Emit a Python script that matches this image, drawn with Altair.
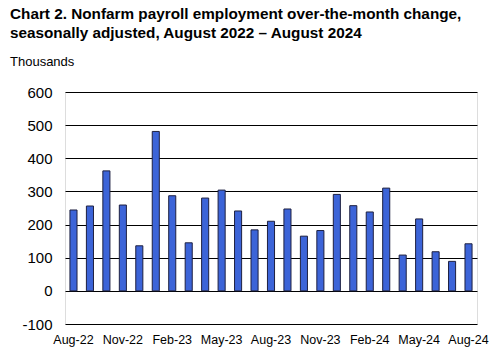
import altair as alt
import pandas as pd

months = ["Aug-22","Sep-22","Oct-22","Nov-22","Dec-22","Jan-23","Feb-23","Mar-23","Apr-23",
          "May-23","Jun-23","Jul-23","Aug-23","Sep-23","Oct-23","Nov-23","Dec-23","Jan-24",
          "Feb-24","Mar-24","Apr-24","May-24","Jun-24","Jul-24","Aug-24"]
values = [244, 256, 362, 259, 136, 481, 287, 145, 280, 304, 241, 184, 210, 247, 165,
          182, 291, 257, 238, 310, 108, 217, 118, 89, 142]
tick_labels = ["Aug-22","Nov-22","Feb-23","May-23","Aug-23","Nov-23","Feb-24","May-24","Aug-24"]

df = pd.DataFrame({"month": months, "value": values})

FONT = "Liberation Sans, Arial, sans-serif"

chart = alt.Chart(df).mark_bar(
    color="#3c64d8", stroke="#1e2040", strokeWidth=1
).encode(
    x=alt.X("month:N", sort=months,
            scale=alt.Scale(paddingInner=0.57, paddingOuter=0.3),
            axis=alt.Axis(title=None, values=tick_labels, labelAngle=0, ticks=False,
                          domain=False, labelFontSize=12.5, labelColor="#000",
                          labelFont=FONT, labelPadding=9, grid=False)),
    y=alt.Y("value:Q", scale=alt.Scale(domain=[-100, 600], nice=False),
            axis=alt.Axis(title=None, values=list(range(-100, 601, 100)), ticks=False,
                          domain=False, labelFontSize=15, labelColor="#000", labelFont=FONT,
                          labelExpr="'' + datum.value",
                          labelPadding=13, grid=True, gridColor="#000", gridWidth=1,
                          gridOpacity=1))
).properties(
    width=412, height=232,
    title=alt.Title(
        text=["Chart 2. Nonfarm payroll employment over-the-month change,",
              "seasonally adjusted, August 2022 \u2013 August 2024"],
        subtitle="Thousands",
        anchor="start", frame="group", dx=-55, offset=16,
        font=FONT, fontSize=15.3, fontWeight="bold", color="#000", lineHeight=18.5,
        subtitleFont=FONT, subtitleFontSize=13, subtitleColor="#000", subtitlePadding=15
    ),
    autosize=alt.AutoSizeParams(type="none"),
    padding={"left": 65, "top": 92, "right": 15, "bottom": 31}
).configure_view(
    stroke="#000", strokeWidth=1
).configure(background="white")

chart.save("out.html", embed_options={"renderer": "svg", "actions": False})
